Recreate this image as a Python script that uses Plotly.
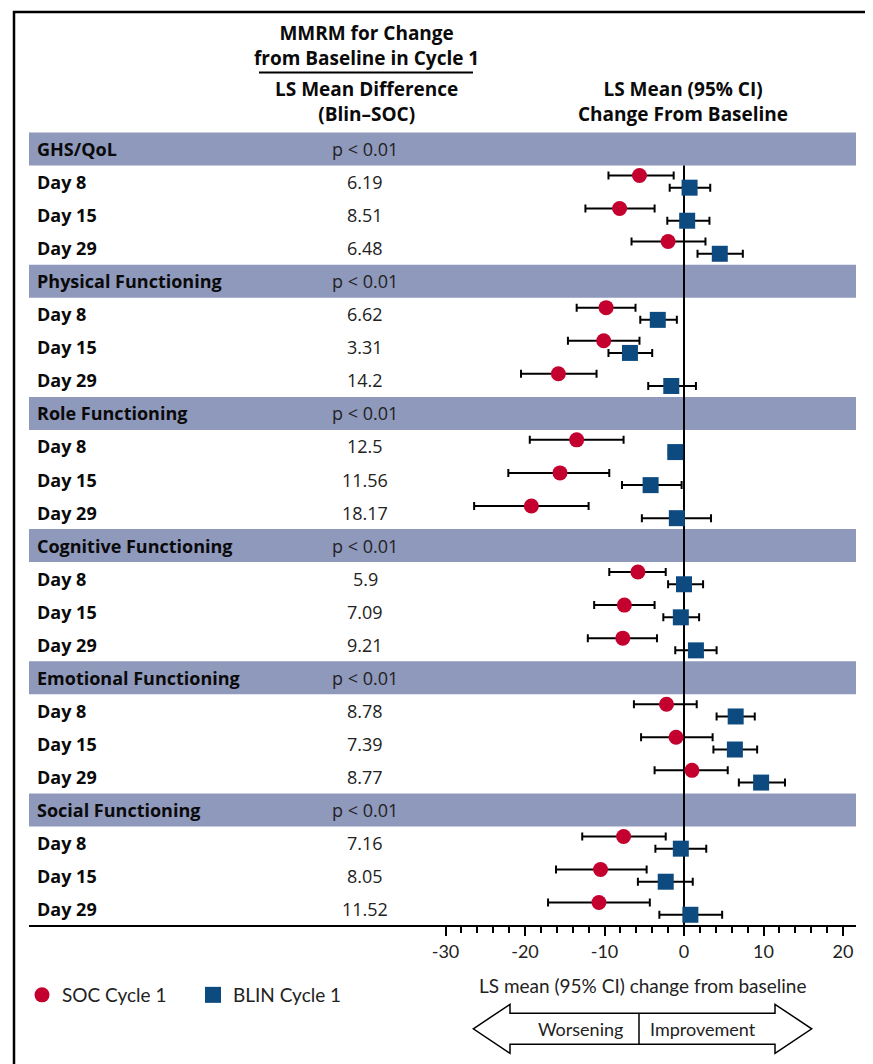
import plotly.graph_objects as go

# ---------------- data ----------------
groups = ["GHS/QoL", "Physical Functioning", "Role Functioning",
          "Cognitive Functioning", "Emotional Functioning", "Social Functioning"]
group_p = ["p < 0.01"] * 6
days = ["Day 8", "Day 15", "Day 29"]
ls_diff = ["6.19", "8.51", "6.48",
           "6.62", "3.31", "14.2",
           "12.5", "11.56", "18.17",
           "5.9", "7.09", "9.21",
           "8.78", "7.39", "8.77",
           "7.16", "8.05", "11.52"]

soc_mean = [-5.6, -8.1, -2.0,
            -9.8, -10.1, -15.8,
            -13.5, -15.6, -19.2,
            -5.8, -7.5, -7.7,
            -2.2, -1.0, 1.0,
            -7.6, -10.5, -10.7]
soc_lo = [-9.5, -12.4, -6.6,
          -13.5, -14.6, -20.5,
          -19.4, -22.1, -26.4,
          -9.4, -11.3, -12.1,
          -6.3, -5.4, -3.7,
          -12.8, -16.1, -17.1]
soc_hi = [-1.3, -3.7, 2.7,
          -6.1, -5.6, -11.0,
          -7.6, -9.4, -12.0,
          -2.3, -3.7, -3.4,
          1.6, 3.6, 5.5,
          -2.3, -4.7, -4.3]

blin_mean = [0.7, 0.4, 4.5,
             -3.3, -6.8, -1.6,
             -1.1, -4.2, -0.9,
             0.0, -0.4, 1.5,
             6.5, 6.4, 9.7,
             -0.4, -2.3, 0.8]
blin_lo = [-1.8, -2.1, 1.7,
           -5.5, -9.5, -4.5,
           -1.9, -7.8, -5.3,
           -2.0, -2.6, -1.1,
           4.1, 3.7, 6.9,
           -3.6, -5.8, -3.1]
blin_hi = [3.3, 3.2, 7.4,
           -0.9, -4.0, 1.5,
           -0.3, -0.3, 3.4,
           2.4, 1.9, 4.1,
           8.9, 9.2, 12.7,
           2.8, 1.1, 4.8]

major_ticks = [-30, -20, -10, 0, 10, 20]
minor_ticks = list(range(-30, 21, 2))

# ---------------- geometry helpers ----------------
OFF = 8                 # page body margin of the html file
W, H = 873 - OFF, 1064 - OFF
def fx(px):
    return (px - OFF) / W
def fy(py):
    return 1 - (py - OFF) / H

ROW0 = 149.0     # pixel y of first row centre (page coords)
PITCH = 33.05    # pixel pitch per row
X0PX = 684.0     # pixel of x = 0
SCALE = 7.95     # px per unit
PLOT_L, PLOT_R = 29.0, 856.0
PLOT_T, PLOT_B = 132.0, 925.0

xmin = -(X0PX - PLOT_L) / SCALE
xmax = (PLOT_R - X0PX) / SCALE
ytop = (PLOT_T - ROW0) / PITCH
ybot = (PLOT_B - ROW0) / PITCH

RED = "#C4002F"
BLUE = "#0D4A7F"
BAND = "#8F99BC"
TXT = "#0a0a0a"
SANS = "'Open Sans', Lato, sans-serif"
HEAD = dict(family=SANS, size=19, color=TXT, weight="bold")
BOLD = dict(family=SANS, size=18, color=TXT, weight="bold")
REG = dict(family=SANS, size=18, color="#222222")
COND = "Lato, 'Open Sans', sans-serif"

# rows: group header at 4g, days at 4g+1..4g+3
day_rows = []
for g in range(len(groups)):
    for d in range(len(days)):
        day_rows.append(4 * g + 1 + d)

fig = go.Figure()

fig.add_trace(go.Scatter(
    x=soc_mean, y=[r - 0.2 for r in day_rows], mode="markers",
    name="SOC Cycle 1",
    marker=dict(symbol="circle", size=15, color=RED),
    error_x=dict(type="data", symmetric=False,
                 array=[h - m for h, m in zip(soc_hi, soc_mean)],
                 arrayminus=[m - l for m, l in zip(soc_mean, soc_lo)],
                 color="black", thickness=2, width=4),
))
fig.add_trace(go.Scatter(
    x=blin_mean, y=[r + 0.17 for r in day_rows], mode="markers",
    name="BLIN Cycle 1",
    marker=dict(symbol="square", size=16, color=BLUE),
    error_x=dict(type="data", symmetric=False,
                 array=[h - m for h, m in zip(blin_hi, blin_mean)],
                 arrayminus=[m - l for m, l in zip(blin_mean, blin_lo)],
                 color="black", thickness=2, width=4),
))

shapes = []
# zero reference line
shapes.append(dict(type="line", xref="x", yref="y", x0=0, x1=0, y0=0.5, y1=ybot,
                   line=dict(color="black", width=2), layer="below"))
# group bands
for g in range(len(groups)):
    shapes.append(dict(type="rect", xref="paper", yref="y",
                       x0=fx(PLOT_L), x1=fx(PLOT_R), y0=4 * g - 0.5, y1=4 * g + 0.5,
                       fillcolor=BAND, line=dict(width=0), layer="below"))
# outer frame
shapes.append(dict(type="rect", xref="paper", yref="paper",
                   x0=fx(14), x1=fx(869), y0=fy(12), y1=fy(1075),
                   line=dict(color="black", width=2.5), fillcolor="rgba(0,0,0,0)"))
# header underline
shapes.append(dict(type="line", xref="paper", yref="paper",
                   x0=fx(259), x1=fx(473), y0=fy(72.5), y1=fy(72.5),
                   line=dict(color="black", width=2)))
# double arrow
pts = [(473.3, 1028.8), (510, 1004.3), (510, 1013.3), (775, 1013.3), (775, 1004.3),
       (811.7, 1028.8), (775, 1053.3), (775, 1044.3), (510, 1044.3), (510, 1053.3)]
path = "M " + " L ".join(f"{fx(a):.5f},{fy(b):.5f}" for a, b in pts) + " Z"
shapes.append(dict(type="path", xref="paper", yref="paper", path=path,
                   line=dict(color="black", width=1.5), fillcolor="white"))
shapes.append(dict(type="line", xref="paper", yref="paper",
                   x0=fx(639), x1=fx(639), y0=fy(1013.3), y1=fy(1044.3),
                   line=dict(color="black", width=1.5)))

ann = []
# headers (two-line blocks)
for txt, px, py in [("MMRM for Change<br>from Baseline in Cycle 1", 366, 45.5),
                    ("LS Mean Difference<br>(Blin\u2013SOC)", 366, 101.5),
                    ("LS Mean (95% CI)<br>Change From Baseline", 683, 101.5)]:
    ann.append(dict(x=fx(px), y=fy(py), xref="paper", yref="paper", text=txt,
                    showarrow=False, xanchor="center", yanchor="middle", align="center",
                    font=HEAD))
# group headers and day labels
for g, name in enumerate(groups):
    ann.append(dict(x=fx(35), y=4 * g, xref="paper", yref="y", text=name,
                    showarrow=False, xanchor="left", yanchor="middle", font=BOLD))
    ann.append(dict(x=fx(365), y=4 * g, xref="paper", yref="y", text=group_p[g],
                    showarrow=False, xanchor="center", yanchor="middle", font=REG))
for i, r in enumerate(day_rows):
    ann.append(dict(x=fx(35), y=r, xref="paper", yref="y", text=days[i % 3],
                    showarrow=False, xanchor="left", yanchor="middle", font=BOLD))
    ann.append(dict(x=fx(365), y=r, xref="paper", yref="y", text=ls_diff[i],
                    showarrow=False, xanchor="center", yanchor="middle", font=REG))
# axis title
ann.append(dict(x=fx(642), y=fy(985), xref="paper", yref="paper",
                text="LS mean (95% CI) change from baseline", showarrow=False,
                xanchor="center", yanchor="middle",
                font=dict(family=COND, size=19, color="#222222")))
ann.append(dict(x=fx(580), y=fy(1029), xref="paper", yref="paper", text="Worsening",
                showarrow=False, xanchor="center", yanchor="middle",
                font=dict(family=COND, size=18, color="#222222")))
ann.append(dict(x=fx(703), y=fy(1029), xref="paper", yref="paper", text="Improvement",
                showarrow=False, xanchor="center", yanchor="middle",
                font=dict(family=COND, size=18, color="#222222")))

fig.update_layout(
    width=W, height=H, margin=dict(l=0, r=0, t=0, b=0),
    paper_bgcolor="white", plot_bgcolor="white",
    shapes=shapes, annotations=ann,
    showlegend=True,
    legend=dict(orientation="h", x=fx(22), y=fy(995), xanchor="left", yanchor="middle",
                font=dict(family=COND, size=19, color="#222222"),
                entrywidth=126, entrywidthmode="pixels", bgcolor="rgba(0,0,0,0)"),
    xaxis=dict(domain=[fx(PLOT_L), fx(PLOT_R)], range=[xmin, xmax],
               showgrid=False, zeroline=False, showline=True, linecolor="black",
               linewidth=2, ticks="outside", ticklen=9, tickwidth=2, tickcolor="black",
               tickmode="array", tickvals=major_ticks,
               ticktext=[str(v) for v in major_ticks],
               tickfont=dict(family=COND, size=18, color="#222222"),
               minor=dict(tickmode="array", tickvals=minor_ticks, ticks="outside",
                          ticklen=6, tickwidth=2, tickcolor="black", showgrid=False),
               fixedrange=True),
    yaxis=dict(domain=[fy(PLOT_B), fy(PLOT_T)], range=[ybot, ytop], visible=False,
               showgrid=False, zeroline=False, fixedrange=True),
)

fig.write_html("out.html")
